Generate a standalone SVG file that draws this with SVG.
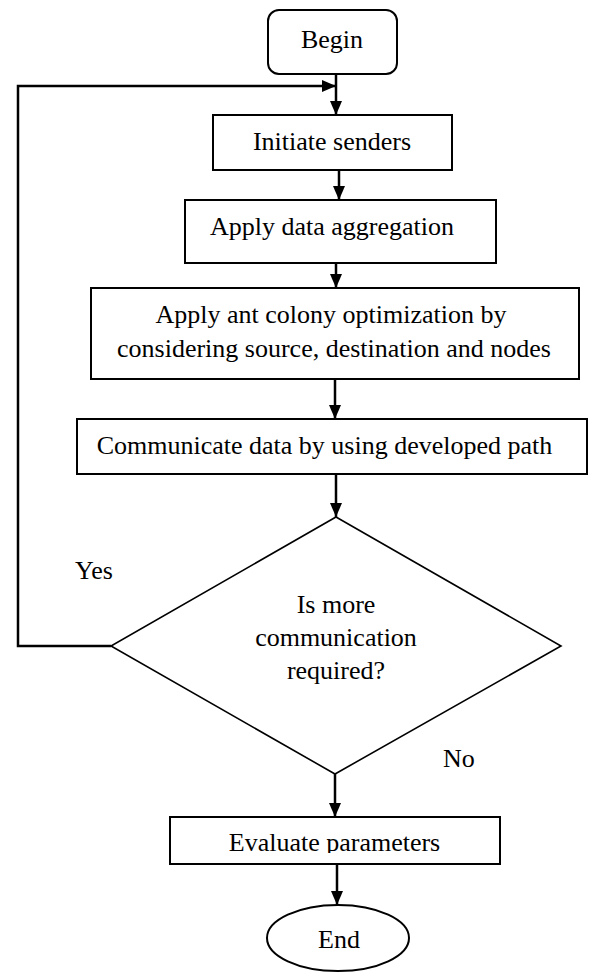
<svg xmlns="http://www.w3.org/2000/svg" width="603" height="972" viewBox="0 0 603 972">
<style>
.box{fill:#fff;stroke:#000;stroke-width:2}
.dia{fill:#fff;stroke:#000;stroke-width:1.6}
.t{font-family:"Liberation Serif","Times New Roman",serif;font-size:26px;fill:#000;text-anchor:middle}
.tl{font-family:"Liberation Serif","Times New Roman",serif;font-size:26px;fill:#000}
.c{fill:none;stroke:#000;stroke-width:2.5}
</style>
<defs>
<marker id="ah" markerUnits="userSpaceOnUse" markerWidth="14" markerHeight="14" viewBox="0 0 14 12" refX="14" refY="6" orient="auto">
<path d="M0,0 L14,6 L0,12 Z" fill="#000"/>
</marker>
<clipPath id="evclip"><rect x="0" y="817" width="603" height="36"/></clipPath>
</defs>
<g id="connectors">
<line class="c" x1="336" y1="74" x2="336" y2="115" marker-end="url(#ah)"/>
<polyline class="c" points="111,646 18,646 18,86 336,86" marker-end="url(#ah)"/>
<line class="c" x1="339" y1="170" x2="339" y2="200" marker-end="url(#ah)"/>
<line class="c" x1="336" y1="263" x2="336" y2="288" marker-end="url(#ah)"/>
<line class="c" x1="335" y1="379" x2="335" y2="419" marker-end="url(#ah)"/>
<line class="c" x1="336" y1="474" x2="336" y2="517" marker-end="url(#ah)"/>
<line class="c" x1="335" y1="774" x2="335" y2="817" marker-end="url(#ah)"/>
<line class="c" x1="337" y1="864" x2="337" y2="905" marker-end="url(#ah)"/>
<text class="tl" x="75" y="579">Yes</text>
<text class="tl" x="443" y="767">No</text>
</g>
<g id="begin">
<rect class="box" x="268" y="10" width="129" height="64" rx="11"/>
<text class="t" x="332" y="48">Begin</text>
</g>
<g id="initiate">
<rect class="box" x="213" y="115" width="239" height="55"/>
<text class="t" x="332" y="150">Initiate senders</text>
</g>
<g id="aggregation">
<rect class="box" x="185" y="200" width="311" height="63"/>
<text class="t" x="332" y="235">Apply data aggregation</text>
</g>
<g id="aco">
<rect class="box" x="91" y="288" width="488" height="91"/>
<text class="t" x="331" y="323">Apply ant colony optimization by</text>
<text class="t" x="334" y="357">considering source, destination and nodes</text>
</g>
<g id="communicate">
<rect class="box" x="77" y="419" width="510" height="55"/>
<text class="t" x="324.5" y="454">Communicate data by using developed path</text>
</g>
<g id="decision">
<polygon class="dia" points="336,517 561,646 335,774 111,646"/>
<text class="t" x="336" y="613">Is more</text>
<text class="t" x="336" y="646">communication</text>
<text class="t" x="336" y="679">required?</text>
</g>
<g id="evaluate">
<rect class="box" x="170" y="817" width="330" height="47"/>
<text class="t" x="334.5" y="851" clip-path="url(#evclip)">Evaluate parameters</text>
</g>
<g id="end">
<ellipse class="box" cx="338" cy="938" rx="71" ry="33"/>
<text class="t" x="339" y="948">End</text>
</g>
</svg>
